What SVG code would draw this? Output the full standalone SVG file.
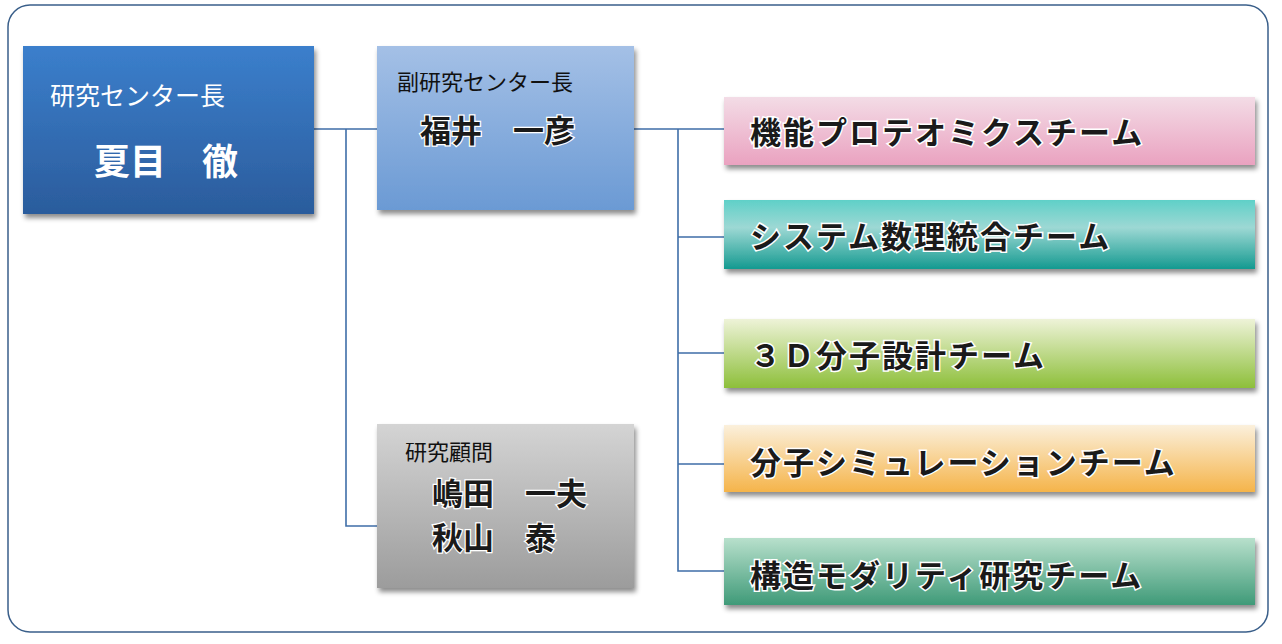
<svg xmlns="http://www.w3.org/2000/svg" width="1282" height="644" viewBox="0 0 1282 644">
<defs>
<linearGradient id="gHead" x1="0" y1="0" x2="0" y2="1"><stop offset="0" stop-color="#3b7fcc"/><stop offset="1" stop-color="#2b5c9c"/></linearGradient>
<linearGradient id="gVice" x1="0" y1="0" x2="0" y2="1"><stop offset="0" stop-color="#a4c0e6"/><stop offset="1" stop-color="#6b9ad4"/></linearGradient>
<linearGradient id="gAdv" x1="0" y1="0" x2="0" y2="1"><stop offset="0" stop-color="#d4d4d4"/><stop offset="1" stop-color="#9c9c9c"/></linearGradient>
<linearGradient id="gPink" x1="0" y1="0" x2="0" y2="1"><stop offset="0" stop-color="#f3dce6"/><stop offset="1" stop-color="#eaa2c0"/></linearGradient>
<linearGradient id="gTeal" x1="0" y1="0" x2="0" y2="1"><stop offset="0" stop-color="#5fd0c8"/><stop offset="0.4" stop-color="#9dd8d4"/><stop offset="1" stop-color="#149a90"/></linearGradient>
<linearGradient id="gGreen" x1="0" y1="0" x2="0" y2="1"><stop offset="0" stop-color="#eef3d8"/><stop offset="1" stop-color="#8dbf3a"/></linearGradient>
<linearGradient id="gOrange" x1="0" y1="0" x2="0" y2="1"><stop offset="0" stop-color="#fbf0dc"/><stop offset="1" stop-color="#f5b44a"/></linearGradient>
<linearGradient id="gSea" x1="0" y1="0" x2="0" y2="1"><stop offset="0" stop-color="#b8e0cc"/><stop offset="1" stop-color="#3f9a78"/></linearGradient>
<filter id="sh" x="-5%" y="-5%" width="115%" height="125%"><feDropShadow dx="2" dy="4" stdDeviation="2.5" flood-color="#000" flood-opacity="0.45"/></filter>
</defs>
<style>
.t{font-family:"Noto Sans CJK JP","Liberation Sans",sans-serif}
.team{font-family:"Noto Sans CJK JP",sans-serif;font-weight:bold;font-size:31px;fill:#1a1a1a;stroke:#fff;stroke-width:3;paint-order:stroke;letter-spacing:2px}
.name{font-family:"Noto Sans CJK JP",sans-serif;font-weight:bold;font-size:31px;fill:#1a1a1a;stroke:#fff;stroke-width:2.5;paint-order:stroke}
.ln{stroke:#3f6ea8;stroke-width:1.6;fill:none}
</style>
<rect x="8" y="5" width="1260" height="627" rx="22" fill="#fff" stroke="#3a5f8a" stroke-width="1.5"/>
<g id="connectors" class="ln">
<path d="M314 129H377M346 129V526H377"/>
<path d="M634 129H724M678 129V571H724M678 237H724M678 353H724M678 464H724"/>
</g>
<g id="head"><rect x="23" y="46" width="291" height="168" fill="url(#gHead)" filter="url(#sh)"/>
<text class="t" x="50" y="105" font-size="25" fill="#fff">研究センター長</text>
<text class="t" x="94" y="175" font-size="36" font-weight="bold" fill="#fff">夏目　徹</text></g>
<g id="vice"><rect x="377" y="46" width="257" height="164" fill="url(#gVice)" filter="url(#sh)"/>
<text class="t" x="397" y="90" font-size="22" fill="#111">副研究センター長</text>
<text class="name" x="420" y="142">福井　一彦</text></g>
<g id="advisor"><rect x="377" y="424" width="257" height="164" fill="url(#gAdv)" filter="url(#sh)"/>
<text class="t" x="405" y="460" font-size="22" fill="#111">研究顧問</text>
<text class="name" x="432" y="505">嶋田　一夫</text>
<text class="name" x="432" y="549">秋山　泰</text></g>
<g id="team1"><rect x="724" y="97" width="531" height="68" fill="url(#gPink)" filter="url(#sh)"/><text class="team" x="750" y="144">機能プロテオミクスチーム</text></g>
<g id="team2"><rect x="724" y="200" width="531" height="69" fill="url(#gTeal)" filter="url(#sh)"/><text class="team" x="750" y="248">システム数理統合チーム</text></g>
<g id="team3"><rect x="724" y="319" width="531" height="69" fill="url(#gGreen)" filter="url(#sh)"/><text class="team" x="750" y="367">３Ｄ分子設計チーム</text></g>
<g id="team4"><rect x="724" y="425" width="531" height="67" fill="url(#gOrange)" filter="url(#sh)"/><text class="team" x="750" y="474">分子シミュレーションチーム</text></g>
<g id="team5"><rect x="724" y="538" width="531" height="67" fill="url(#gSea)" filter="url(#sh)"/><text class="team" x="750" y="587">構造モダリティ研究チーム</text></g>
</svg>
